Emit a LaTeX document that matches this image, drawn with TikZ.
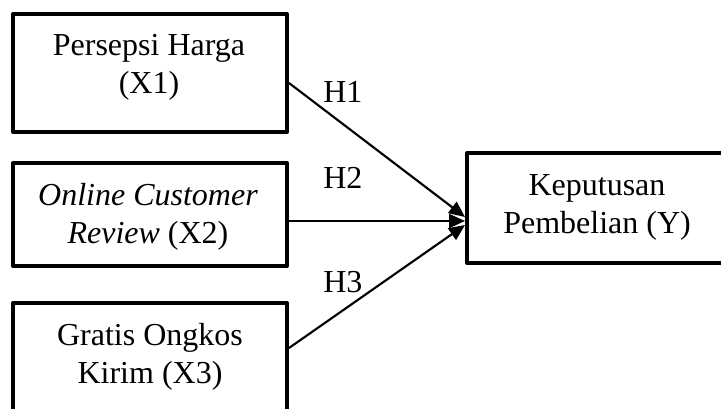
\documentclass[tikz,border=0pt]{standalone}
\usepackage{fontspec}
\setmainfont{Liberation Serif}
\usetikzlibrary{arrows.meta}
\begin{document}
\begin{tikzpicture}[x=0.75pt,y=-0.75pt,
  box/.style={draw,line width=3pt,line join=round,rectangle,inner sep=0pt},
  txt/.style={inner sep=0pt,anchor=base,font=\fontsize{24}{28}\selectfont},
  hyp/.style={inner sep=0pt,anchor=base west,font=\fontsize{24}{28}\selectfont},
  conn/.style={line width=1.6pt,-{Triangle[length=12pt,width=10.5pt]}}]
\clip (0,0) rectangle (721,408);
\fill[white] (0,0) rectangle (721,408);
% boxes
\node[box,minimum width=274pt*0.75,minimum height=118pt*0.75] (b1) at (150,73) {};
\node[box,minimum width=274pt*0.75,minimum height=103pt*0.75] (b2) at (150,214.5) {};
\node[box,minimum width=274pt*0.75,minimum height=117pt*0.75] (b3) at (150,361.5) {};
\node[box,minimum width=257pt*0.75,minimum height=110pt*0.75] (y) at (595.5,208) {};
% texts
\node[txt] (t1a) at (149,55) {Persepsi Harga};
\node[txt] (t1b) at (149,93) {(X1)};
\node[txt] (t2a) at (148,205) {\textit{Online Customer}};
\node[txt] (t2b) at (148,243) {\textit{Review} (X2)};
\node[txt] (t3a) at (150,345) {Gratis Ongkos};
\node[txt] (t3b) at (150,383) {Kirim (X3)};
\node[txt] (tya) at (597,195) {Keputusan};
\node[txt] (tyb) at (597,233) {Pembelian (Y)};
% connector end points
\coordinate (s1) at (b1.east |- 0,83);
\coordinate (s2) at (b2.east |- 0,221);
\coordinate (s3) at (b3.east |- 0,348);
\coordinate (e1) at (465,217);
\coordinate (e2) at (465,221);
\coordinate (e3) at (465,225);
\draw[conn] (s1) -- (e1);
\draw[conn] (s2) -- (e2);
\draw[conn] (s3) -- (e3);
% labels
\node[hyp] (h1) at (323,102) {H1};
\node[hyp] (h2) at (323,188) {H2};
\node[hyp] (h3) at (323,292) {H3};
\end{tikzpicture}
\end{document}
